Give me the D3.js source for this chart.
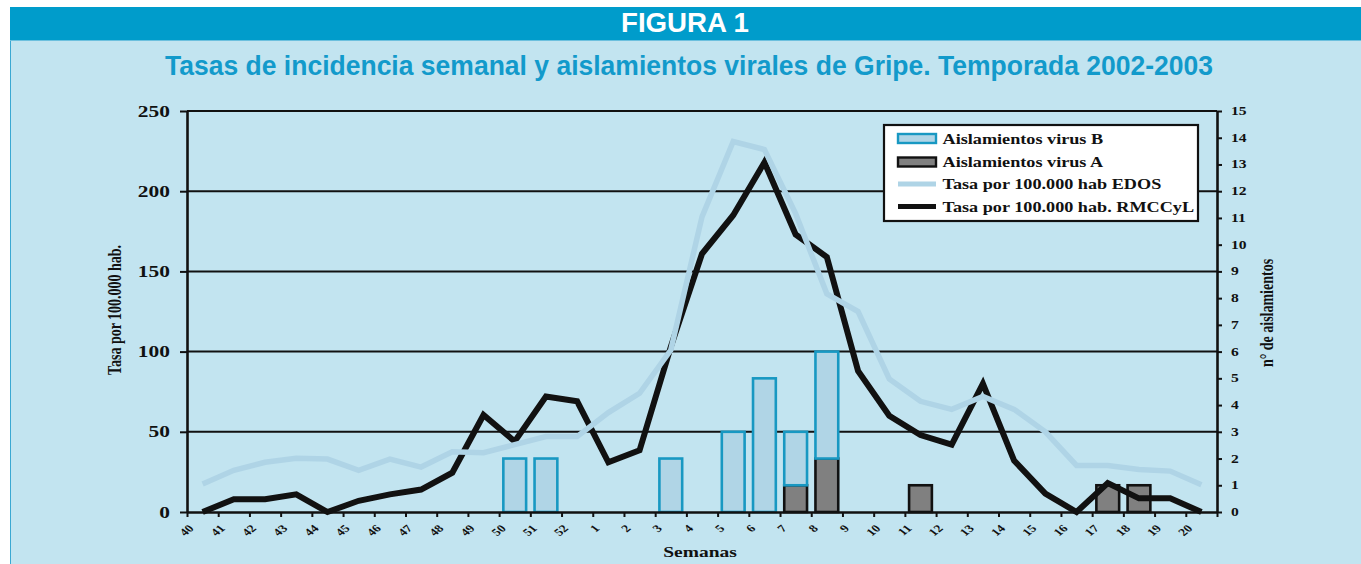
<!DOCTYPE html>
<html>
<head>
<meta charset="utf-8">
<script src="https://cdn.jsdelivr.net/npm/d3@7"></script>
<style>
html, body { margin: 0; padding: 0; background: #fff; }
svg { display: block; }
</style>
</head>
<body>
<div class="chart"></div>
<script>
// Weekly flu incidence (two surveillance networks) + viral isolations, season 2002-2003.
var weeks = ['40', '41', '42', '43', '44', '45', '46', '47', '48', '49', '50', '51', '52',
  '1', '2', '3', '4', '5', '6', '7', '8', '9', '10', '11', '12', '13', '14', '15', '16', '17', '18', '19', '20']

// rate per 100.000 inhabitants, EDOS (light blue line)
var edos = [17.5, 26, 31, 33.5, 33, 26, 33, 28, 37.5, 37, 42, 47, 47,
  62, 74, 101, 184, 231, 226, 186, 136, 125, 83, 69, 64, 72, 64, 50, 29, 29, 26.5, 25.5, 17]

// rate per 100.000 inhabitants, RMCCyL (black line)
var rmccyl = [0, 8, 8, 11, 0, 7, 11, 14, 24.5, 60.5, 44, 72, 69,
  31, 38.5, 103, 161, 185, 218, 173, 159, 88, 60, 48, 42, 80, 32, 11.5, 0, 18, 8.5, 8.5, 0]

// isolations, stacked: virus A at the bottom, virus B on top
var virusA = [0, 0, 0, 0, 0, 0, 0, 0, 0, 0, 0, 0, 0,
  0, 0, 0, 0, 0, 0, 1, 2, 0, 0, 1, 0, 0, 0, 0, 0, 1, 1, 0, 0]
var virusB = [0, 0, 0, 0, 0, 0, 0, 0, 0, 0, 2, 2, 0,
  0, 0, 2, 0, 3, 5, 2, 4, 0, 0, 0, 0, 0, 0, 0, 0, 0, 0, 0, 0]

var leftTicks = [0, 50, 100, 150, 200, 250]
var rightTicks = [0, 1, 2, 3, 4, 5, 6, 7, 8, 9, 10, 11, 12, 13, 14, 15]

var legendItems = [
  {key: 'B', label: 'Aislamientos virus B'},
  {key: 'A', label: 'Aislamientos virus A'},
  {key: 'edos', label: 'Tasa por 100.000 hab EDOS'},
  {key: 'rmc', label: 'Tasa por 100.000 hab. RMCCyL'}
]

var col = {
  header: '#009ccb', panel: '#c2e4f0', title: '#129acb',
  edos: '#afd4e6', rmc: '#111', bFill: '#b0d5e6', bStroke: '#1898c2', aFill: '#808080'
}
var serifFont = '"Liberation Serif", "Times New Roman", serif'
var sansFont = '"Liberation Sans", Arial, Helvetica, sans-serif'
var STRETCH = 1.3 // the source figure is stretched horizontally

var W = 1361, H = 564
var svg = d3.select('.chart').append('svg').attr('width', W).attr('height', H)

// ---- frame, header band, titles ----
svg.append('rect')
  .attr('x', 10.5).attr('y', 7.5).attr('width', W).attr('height', H)
  .attr('fill', col.panel).attr('stroke', '#3aa8d2').attr('stroke-width', 1)
svg.append('rect')
  .attr('x', 10).attr('y', 7).attr('width', W - 10).attr('height', 33)
  .attr('fill', col.header)
svg.append('line')
  .attr('x1', 10).attr('x2', W).attr('y1', 40.5).attr('y2', 40.5)
  .attr('stroke', '#6cc0de').attr('stroke-width', 1)

svg.append('text').text('FIGURA 1')
  .attr('x', 685).attr('y', 32).attr('text-anchor', 'middle')
  .attr('font-family', sansFont).attr('font-weight', 700).attr('font-size', 28)
  .attr('textLength', 128).attr('lengthAdjust', 'spacingAndGlyphs')
  .attr('fill', '#fff')

svg.append('text').text('Tasas de incidencia semanal y aislamientos virales de Gripe. Temporada 2002-2003')
  .attr('x', 689).attr('y', 75).attr('text-anchor', 'middle')
  .attr('font-family', sansFont).attr('font-weight', 700).attr('font-size', 28)
  .attr('textLength', 1048).attr('lengthAdjust', 'spacingAndGlyphs')
  .attr('fill', col.title)

// serif label, stretched horizontally like the source
function serifText(sel, x, y, text, size, anchor, rot){
  return sel.append('text').text(text)
    .attr('transform', 'translate(' + x + ',' + y + ') scale(' + STRETCH + ',1)' + (rot ? ' rotate(' + rot + ')' : ''))
    .attr('text-anchor', anchor || 'start')
    .attr('font-family', serifFont).attr('font-weight', 700).attr('font-size', size)
    .attr('fill', '#111')
}

// ---- chart area ----
var margin = {left: 187, top: 111}
var width = 1030, height = 401
var g = svg.append('g').attr('transform', 'translate(' + margin.left + ',' + margin.top + ')')

var x = d3.scaleBand().domain(weeks).range([0, width]).paddingInner(0.27).paddingOuter(0.135)
var xEdge = d3.scaleLinear().domain([0, weeks.length]).range([0, width])
var y = d3.scaleLinear().domain([0, 250]).range([height, 0])
var yR = d3.scaleLinear().domain([0, 15]).range([height, 0])
function cx(w){ return x(w) + x.bandwidth() / 2 }

// gridlines
g.append('g').selectAll('line').data(leftTicks.slice(1)).join('line')
  .attr('x1', 0).attr('x2', width)
  .attr('y1', function(d){ return y(d) }).attr('y2', function(d){ return y(d) })
  .attr('stroke', '#111').attr('stroke-width', 2)

// ---- stacked isolation bars ----
var barRows = weeks.map(function(w, i){ return {week: w, A: virusA[i], B: virusB[i]} })
var stack = d3.stack().keys(['A', 'B'])(barRows)
var barStyle = {A: {fill: col.aFill, stroke: '#111'}, B: {fill: col.bFill, stroke: col.bStroke}}

stack.forEach(function(layer){
  g.append('g').selectAll('rect')
    .data(layer.filter(function(d){ return d[1] > d[0] }))
    .join('rect')
    .attr('x', function(d){ return x(d.data.week) })
    .attr('width', x.bandwidth())
    .attr('y', function(d){ return yR(d[1]) })
    .attr('height', function(d){ return yR(d[0]) - yR(d[1]) })
    .attr('fill', barStyle[layer.key].fill)
    .attr('stroke', barStyle[layer.key].stroke).attr('stroke-width', 2.6)
})

// ---- rate lines ----
var line = d3.line().x(function(d){ return cx(d.w) }).y(function(d){ return y(d.v) })
function series(vals){ return weeks.map(function(w, i){ return {w: w, v: vals[i]} }) }

g.append('path').attr('d', line(series(rmccyl)))
  .attr('fill', 'none').attr('stroke', col.rmc).attr('stroke-width', 6)
  .attr('stroke-linejoin', 'miter').attr('stroke-miterlimit', 10)
g.append('path').attr('d', line(series(edos)))
  .attr('fill', 'none').attr('stroke', col.edos).attr('stroke-width', 5.5)
  .attr('stroke-linejoin', 'miter')

// ---- axes ----
var axL = g.append('g').call(d3.axisLeft(y).tickValues(leftTicks).tickSize(7).tickSizeOuter(0))
axL.selectAll('text').remove()
leftTicks.forEach(function(t){ serifText(g, -17, y(t) + 5.5, t, 16.5, 'end') })

var axR = g.append('g').attr('transform', 'translate(' + width + ',0)')
  .call(d3.axisRight(yR).tickValues(rightTicks).tickSize(5).tickSizeOuter(0))
axR.selectAll('text').remove()
rightTicks.forEach(function(t){ serifText(g, width + 14, yR(t) + 4, t, 12, 'start') })

var axB = g.append('g').attr('transform', 'translate(0,' + height + ')')
  .call(d3.axisBottom(xEdge).tickValues(d3.range(weeks.length + 1)).tickSize(5).tickSizeOuter(0).tickFormat(''))

;[axL, axR, axB].forEach(function(a){
  a.select('.domain').attr('stroke', '#111').attr('stroke-width', 2.6)
  a.selectAll('.tick line').attr('stroke', '#111').attr('stroke-width', 2)
})

// rotated week labels
weeks.forEach(function(w){ serifText(g, cx(w) - 8, height + 17, w, 10.5, 'end', -45) })

// axis titles
serifText(g, 513, height + 45, 'Semanas', 15, 'middle')
serifText(g, 121 - margin.left, 310 - margin.top, 'Tasa por 100.000 hab.', 14, 'middle', -90)
serifText(g, 1273 - margin.left, 313 - margin.top, 'n\u00b0 de aislamientos', 14, 'middle', -90)

// ---- legend ----
var lg = svg.append('g').attr('transform', 'translate(884,125)')
lg.append('rect').attr('width', 314).attr('height', 96).attr('fill', '#fff')
var rowY = [13.5, 37, 59, 81.5]
legendItems.forEach(function(it, i){
  var ry = rowY[i]
  if (it.key == 'A' || it.key == 'B'){
    lg.append('rect').attr('x', 14).attr('y', ry - 4.5).attr('width', 38).attr('height', 9)
      .attr('fill', barStyle[it.key].fill).attr('stroke', barStyle[it.key].stroke).attr('stroke-width', 2.4)
  } else {
    lg.append('line').attr('x1', 14).attr('x2', 52).attr('y1', ry).attr('y2', ry)
      .attr('stroke', it.key == 'edos' ? col.edos : col.rmc).attr('stroke-width', 5)
  }
  serifText(lg, 58.5, ry + 5, it.label, 14, 'start')
})
lg.append('rect').attr('width', 314).attr('height', 96)
  .attr('fill', 'none').attr('stroke', '#111').attr('stroke-width', 2.2)
</script>
</body>
</html>
